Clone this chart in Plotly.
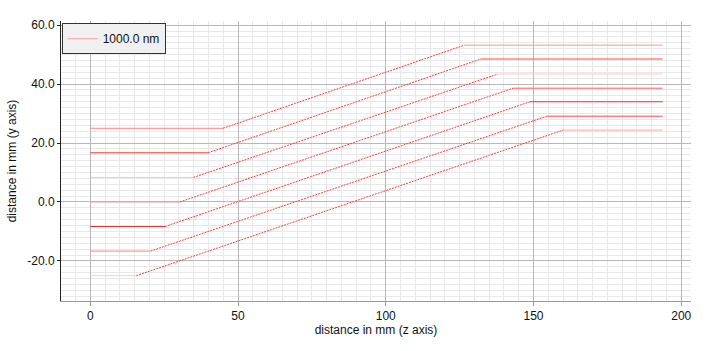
import plotly.graph_objects as go

# ray data (mm)
y_start = [25.0, 16.67, 8.33, 0.0, -8.33, -16.67, -25.0]
z_kink1 = [44.9, 39.8, 34.9, 30.3, 25.3, 20.4, 15.6]
z_kink2 = [126.6, 132.2, 137.9, 143.1, 148.8, 154.5, 160.1]
y_end = [53.2, 48.5, 43.4, 38.6, 34.0, 29.1, 24.4]
z_max = 193.7

x_ticks = [0, 50, 100, 150, 200]
y_ticks = [-20, 0, 20, 40, 60]
y_ticktext = ["-20.0", "0.0", "20.0", "40.0", "60.0"]
legend_name = "1000.0 nm"

c_left = ["#ff8282", "#e03434", "#ffc4c4", "#f09a9a", "#e03434", "#ff8282", "#ffcccc"]
c_right = ["#f29a9a", "#ff4a4a", "#ffcaca", "#ff5c5c", "#ff2a2a", "#ff4a4a", "#ffa8a8"]
c_slope = "#ff3c3c"

fig = go.Figure()
for i in range(len(y_start)):
    fig.add_trace(go.Scatter(
        x=[0, z_kink1[i]], y=[y_start[i], y_start[i]], mode="lines",
        line=dict(color=c_left[i], width=1), name=legend_name,
        showlegend=False, hoverinfo="skip"))
    fig.add_trace(go.Scatter(
        x=[z_kink1[i], z_kink2[i]], y=[y_start[i], y_end[i]], mode="lines",
        line=dict(color=c_slope, width=1, dash="2px,1px"), name=legend_name,
        showlegend=False, hoverinfo="skip"))
    fig.add_trace(go.Scatter(
        x=[z_kink2[i], z_max], y=[y_end[i], y_end[i]], mode="lines",
        line=dict(color=c_right[i], width=1), name=legend_name,
        showlegend=False, hoverinfo="skip"))

# legend entry
fig.add_trace(go.Scatter(x=[None], y=[None], mode="lines",
                         line=dict(color="#f4a0a0", width=1),
                         name=legend_name, showlegend=True))

font = dict(family="Liberation Sans, Arial, sans-serif", size=12, color="#111")

fig.update_layout(
    width=707, height=351,
    margin=dict(l=61, r=16, t=21, b=50),
    paper_bgcolor="white", plot_bgcolor="white",
    font=font,
    showlegend=True,
    legend=dict(x=0.001, y=0.992, xanchor="left", yanchor="top",
                bgcolor="#f0f0f0", bordercolor="#333", borderwidth=1,
                font=dict(family="Liberation Sans, Arial, sans-serif", size=12, color="#111"),
                itemwidth=30, tracegroupgap=0),
    xaxis=dict(
        range=[-9.9, 203.3], tickvals=x_ticks, ticktext=[str(v) for v in x_ticks],
        showline=True, linecolor="#999", linewidth=1,
        ticks="outside", ticklen=4, tickcolor="#999",
        showgrid=True, gridcolor="#b8b8b8", gridwidth=1, zeroline=False,
        minor=dict(dtick=5, tick0=0, showgrid=True, gridcolor="#e8e8e8", ticks=""),
        title=dict(text="distance in mm (z axis)", font=font, standoff=3),
    ),
    yaxis=dict(
        range=[-33.6, 61.4], tickvals=y_ticks, ticktext=y_ticktext,
        showline=True, linecolor="#222", linewidth=1,
        ticks="outside", ticklen=3, tickcolor="#222",
        showgrid=True, gridcolor="#b8b8b8", gridwidth=1, zeroline=False,
        minor=dict(dtick=2, tick0=0, showgrid=True, gridcolor="#e8e8e8", ticks=""),
        title=dict(text="distance in mm (y axis)", font=font, standoff=8),
    ),
)

fig.write_html("out.html")
